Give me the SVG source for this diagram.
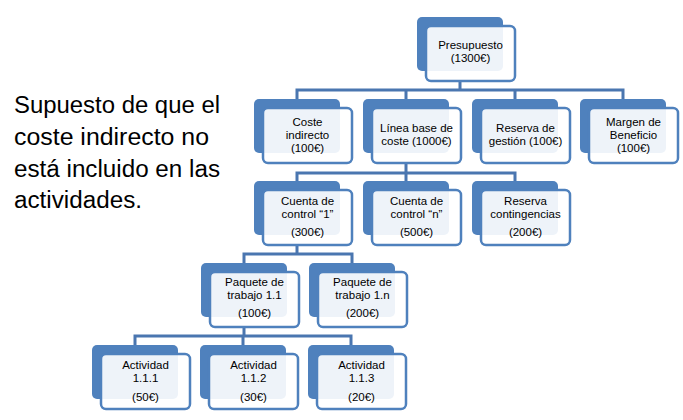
<svg xmlns="http://www.w3.org/2000/svg" width="683" height="420" viewBox="0 0 683 420">
<style>
.bk{fill:#4f81bd;}
.fr{fill:#ffffff;fill-opacity:0.9;stroke:#4f81bd;stroke-width:2.5;}
.t{font-family:"Liberation Sans",Arial,sans-serif;font-size:11.5px;fill:#000;text-anchor:middle;}
.c{fill:none;stroke:#4a76b0;stroke-width:3;}
.side{font-family:"Liberation Sans",Arial,sans-serif;font-size:23px;fill:#000;}
</style>
<defs>
<g id="box">
<rect class="bk" x="0" y="0" width="86" height="54" rx="5"/>
<rect class="fr" x="9" y="9" width="89" height="55" rx="5"/>
</g>
</defs>
<g id="side-text">
<text class="side" x="14" y="113" textLength="206" lengthAdjust="spacingAndGlyphs">Supuesto de que el</text>
<text class="side" x="14" y="145" textLength="195" lengthAdjust="spacingAndGlyphs">coste indirecto no</text>
<text class="side" x="14" y="177" textLength="206" lengthAdjust="spacingAndGlyphs">está incluido en las</text>
<text class="side" x="14" y="208" textLength="128" lengthAdjust="spacingAndGlyphs">actividades.</text>
</g>
<g id="connectors">
<path class="c" d="M460 81V90M297 99V90H623V99M406 90V99M515 90V99"/>
<path class="c" d="M406 163V173M297 181V173H515V181M406 173V181"/>
<path class="c" d="M297 245V254M244 263V254H352V263"/>
<path class="c" d="M244 327V336M135 345V336H351V345M243 336V345"/>
</g>
<g id="n-presupuesto" transform="translate(417,17)">
<use href="#box"/>
<text class="t" x="53.5" y="32">Presupuesto</text>
<text class="t" x="53.5" y="45">(1300€)</text>
</g>
<g id="n-coste-indirecto" transform="translate(254,99)">
<use href="#box"/>
<text class="t" x="53.5" y="27">Coste</text>
<text class="t" x="53.5" y="40">indirecto</text>
<text class="t" x="53.5" y="53">(100€)</text>
</g>
<g id="n-linea-base" transform="translate(363,99)">
<use href="#box"/>
<text class="t" x="53.5" y="33">Línea base de</text>
<text class="t" x="53.5" y="46">coste (1000€)</text>
</g>
<g id="n-reserva-gestion" transform="translate(472,99)">
<use href="#box"/>
<text class="t" x="53.5" y="33">Reserva de</text>
<text class="t" x="53.5" y="46">gestión (100€)</text>
</g>
<g id="n-margen" transform="translate(580,99)">
<use href="#box"/>
<text class="t" x="53.5" y="27">Margen de</text>
<text class="t" x="53.5" y="40">Beneficio</text>
<text class="t" x="53.5" y="53">(100€)</text>
</g>
<g id="n-cuenta-1" transform="translate(254,181)">
<use href="#box"/>
<text class="t" x="53.5" y="24">Cuenta de</text>
<text class="t" x="53.5" y="37">control “1”</text>
<text class="t" x="53.5" y="55">(300€)</text>
</g>
<g id="n-cuenta-n" transform="translate(363,181)">
<use href="#box"/>
<text class="t" x="53.5" y="24">Cuenta de</text>
<text class="t" x="53.5" y="37">control “n”</text>
<text class="t" x="53.5" y="55">(500€)</text>
</g>
<g id="n-reserva-contingencias" transform="translate(472,181)">
<use href="#box"/>
<text class="t" x="53.5" y="24">Reserva</text>
<text class="t" x="53.5" y="37">contingencias</text>
<text class="t" x="53.5" y="55">(200€)</text>
</g>
<g id="n-paquete-1-1" transform="translate(201,263)">
<use href="#box"/>
<text class="t" x="53.5" y="23">Paquete de</text>
<text class="t" x="53.5" y="36">trabajo 1.1</text>
<text class="t" x="53.5" y="54">(100€)</text>
</g>
<g id="n-paquete-1-n" transform="translate(309,263)">
<use href="#box"/>
<text class="t" x="53.5" y="23">Paquete de</text>
<text class="t" x="53.5" y="36">trabajo 1.n</text>
<text class="t" x="53.5" y="54">(200€)</text>
</g>
<g id="n-actividad-1-1-1" transform="translate(92,345)">
<use href="#box"/>
<text class="t" x="53.5" y="24">Actividad</text>
<text class="t" x="53.5" y="37">1.1.1</text>
<text class="t" x="53.5" y="56">(50€)</text>
</g>
<g id="n-actividad-1-1-2" transform="translate(200,345)">
<use href="#box"/>
<text class="t" x="53.5" y="24">Actividad</text>
<text class="t" x="53.5" y="37">1.1.2</text>
<text class="t" x="53.5" y="56">(30€)</text>
</g>
<g id="n-actividad-1-1-3" transform="translate(308,345)">
<use href="#box"/>
<text class="t" x="53.5" y="24">Actividad</text>
<text class="t" x="53.5" y="37">1.1.3</text>
<text class="t" x="53.5" y="56">(20€)</text>
</g>
</svg>
